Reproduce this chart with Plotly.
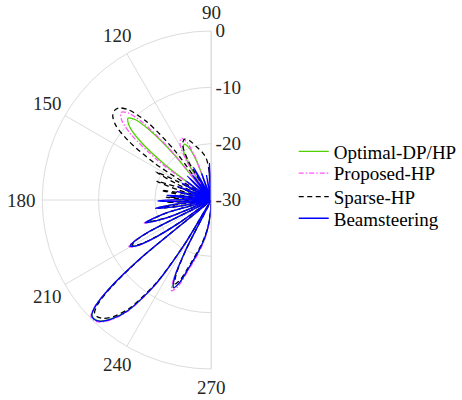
import math
import plotly.graph_objects as go

# Beam patterns (angle in degrees, gain in dB)
optimal_pts = [
    (90, -30), (92, -28), (94, -25), (96.5, -28), (99, -30),
    (102.5, -27), (106, -30),
    (110.5, -23), (113, -20), (116, -19), (119.5, -20), (122.5, -23), (127, -30),
    (129.2, -19.8), (131.5, -13.3), (133.5, -10.3), (135.5, -9.3), (137.8, -10.3), (140.2, -13.3), (142.7, -19.8), (145, -30),
    (147, -28.5), (149, -25), (151, -28.5), (153, -30),
    (155, -28.5), (157, -25), (159, -28.5), (161, -30),
    (163, -28), (165, -24), (167, -28), (169, -30),
    (171, -27.5), (173, -23.5), (175, -27.5), (177, -30),
    (179, -26), (181, -22), (182.8, -26), (184.5, -30),
    (186.5, -24), (188.5, -20), (190.8, -24), (193, -30),
    (196, -21.6), (199, -17.6), (202, -21.6), (205, -30),
    (207, -17.5), (208.3, -14.5), (209.5, -13.5), (211.5, -14.5), (213.5, -17.5), (215.5, -23), (218, -30),
    (219.5, -14), (221, -6), (222.5, -2.2), (224, -0.6), (225.5, -0.4), (227.5, -0.9), (230, -2.5), (233, -5.5), (236.5, -12), (239, -21), (241, -30),
    (243, -20), (244.8, -14.5), (246.7, -13), (249, -14.2), (252, -17.5), (256, -20.5), (260, -23), (264, -25.8), (268, -30),
]

proposed_pts = [
    (90, -30), (92, -27.5), (94, -24), (96.5, -27.5), (99, -30),
    (102.5, -26.5), (106, -30),
    (110.5, -22), (113, -18.8), (116, -17.8), (119.5, -18.8), (122.5, -22), (127, -30),
    (129.2, -18.2), (131.5, -11.7), (133.6, -8.7), (135.8, -7.7), (138.3, -8.7), (140.8, -11.7), (143.5, -18.2), (146, -30),
    (148, -28.5), (150, -24.5), (152, -28.5), (154, -30),
    (156, -28), (158, -24), (160, -28), (162, -30),
    (164, -27.5), (166, -23.5), (168, -27.5), (170, -30),
    (172, -27), (174, -23), (175.8, -27), (177.5, -30),
    (179.2, -25.5), (181, -21.5), (182.8, -25.5), (184.5, -30),
    (186.5, -24), (188.5, -20), (190.8, -24), (193, -30),
    (196, -21.4), (199, -17.4), (202, -21.4), (205, -30),
    (207, -17.2), (208.3, -14.2), (209.5, -13.2), (211.5, -14.2), (213.5, -17.2), (215.5, -22.8), (218, -30),
    (219.5, -13.8), (221, -5.8), (222.5, -1.9), (224, -0.3), (225.5, -0.1), (227.5, -0.6), (230, -2.2), (233, -5.2), (236.5, -11.7), (239, -20.8), (241, -30),
    (243, -19.5), (244.8, -13.9), (246.5, -12.4), (249, -13.6), (252, -16.9), (256, -20), (260, -22.6), (264, -25.5), (268, -30),
]

sparse_pts = [
    (90, -30), (94, -25), (97, -22.5), (101, -21.3), (105.5, -20.2), (110, -18.8), (114, -18.2), (117.5, -19), (120.5, -22), (124, -30),
    (126.5, -19), (129.5, -12), (132.5, -8.3), (135, -6.9), (137, -6.6), (139.5, -7), (142, -8.5), (144.5, -12), (147, -18), (149.5, -30),
    (151.3, -23), (153, -19), (155, -23), (157, -30),
    (159, -23.8), (161, -19.8), (163, -23.8), (165, -30),
    (167, -25), (169, -21), (171, -25), (173, -30),
    (174.8, -26), (176.5, -22), (178.2, -26), (180, -30),
    (181.5, -26), (183, -22), (184.3, -26), (185.5, -30),
    (187.2, -24.5), (189, -20.5), (191, -24.5), (193, -30),
    (196, -22), (199, -18), (202, -22), (205, -30),
    (207, -17.8), (208.3, -14.8), (209.5, -13.8), (211.5, -14.8), (213.5, -17.8), (215.5, -23.2), (218, -30),
    (219.5, -14.5), (221, -6.6), (222.5, -2.8), (224, -1.2), (225.5, -1), (227.5, -1.5), (230, -3), (233, -6), (236.5, -12.5), (239, -21.3), (241, -30),
    (243, -20.5), (244.8, -15.3), (246.7, -13.8), (249, -15), (252, -18.2), (256, -21), (260, -23.4), (264, -26), (268, -30),
]

beamsteering_pts = [
    (90, -30), (91.5, -27.5), (93, -23.5), (94.8, -27.5), (96.5, -30),
    (98.8, -29.5), (101, -25.5), (103.3, -29.5), (105.5, -30),
    (107.7, -29), (110, -25), (112, -29), (114, -30),
    (116.3, -27.4), (118.5, -23.4), (120.8, -27.4), (123, -30),
    (125, -28.5), (127, -24.5), (129, -28.5), (131, -30),
    (133, -28), (135, -24), (137, -28), (139, -30),
    (141, -28.5), (143, -24.5), (144.8, -28.5), (146.5, -30),
    (148.2, -28), (150, -24), (152, -28), (154, -30),
    (156, -27.5), (158, -23.5), (160, -27.5), (162, -30),
    (164, -27.7), (166, -23.7), (168, -27.7), (170, -30),
    (172, -26), (174, -22), (175.8, -26), (177.5, -30),
    (179.2, -24.5), (181, -20.5), (182.8, -24.5), (184.5, -30),
    (186.5, -24), (188.5, -20), (190.8, -24), (193, -30),
    (196, -21.6), (199, -17.6), (202, -21.6), (205, -30),
    (207, -17.4), (208.3, -14.4), (209.5, -13.4), (211.5, -14.4), (213.5, -17.4), (215.5, -23), (218, -30),
    (219.5, -14), (221, -6), (222.5, -2.1), (224, -0.5), (225.5, -0.3), (227.5, -0.8), (230, -2.4), (233, -5.4), (236.5, -12), (239, -21), (241, -30),
    (243, -20), (244.8, -14.6), (246.7, -13.1), (249, -14.3), (252, -17.6), (256, -20.6), (260, -23), (264, -25.8), (268, -30),
]

series_names = ["Optimal-DP/HP", "Proposed-HP", "Sparse-HP", "Beamsteering"]
angle_ticks = [90, 120, 150, 180, 210, 240, 270]
radial_ticks = [-30, -20, -10, 0]
radial_tick_labels = ["-30", "-20", "-10", "0"]

styles = [
    dict(color="#4fd100", dash="solid"),
    dict(color="#ff55ff", dash="5px,2px,1.5px,2px"),
    dict(color="#000000", dash="5px,3.5px"),
    dict(color="#0000ff", dash="solid"),
]
legend_ids = ["legend", "legend2", "legend3", "legend4"]
legend_y = [0.621, 0.567, 0.508, 0.454]

W, H = 462, 400
CX, CY, R = 215, 200, 172  # polar centre and radius in pixels

fig = go.Figure()
for name, pts, st, lg in zip(series_names,
                             [optimal_pts, proposed_pts, sparse_pts, beamsteering_pts],
                             styles, legend_ids):
    th = [p[0] for p in pts]
    rr = [p[1] for p in pts]
    fig.add_trace(go.Scatterpolar(
        theta=th, r=rr, mode="lines", name=name, legend=lg,
        line=dict(color=st["color"], dash=st["dash"], width=1.3, shape="spline", smoothing=0.8),
    ))

grid = "#dcdcdc"
fig.update_layout(
    width=W, height=H,
    margin=dict(l=0, r=0, t=0, b=0),
    paper_bgcolor="white",
    font=dict(family="Liberation Serif", size=19, color="#262626"),
    polar=dict(
        domain=dict(x=[(CX - R) / W, CX / W], y=[(H - CY - R) / H, (H - CY + R) / H]),
        bgcolor="white",
        sector=[90, 270],
        radialaxis=dict(
            range=[-30, 0], tickvals=radial_ticks, ticktext=radial_tick_labels,
            angle=90, side="clockwise",
            showline=True, linecolor=grid, linewidth=1, gridcolor=grid,
            ticks="", tickangle=90, tickfont=dict(size=19, color="#262626"),
        ),
        angularaxis=dict(
            rotation=0, direction="counterclockwise", tickvals=angle_ticks,
            showline=True, linecolor=grid, linewidth=1, gridcolor=grid,
            ticks="", showticklabels=False,
        ),
    ),
    showlegend=True,
)

# angular tick labels, centred outside the outer ring
for a in angle_ticks:
    rad = math.radians(a)
    rl = R + 15 + 6 * abs(math.cos(rad))
    px = CX + rl * math.cos(rad)
    py = CY - rl * math.sin(rad)
    fig.add_annotation(x=px / W, y=1 - py / H, xref="paper", yref="paper",
                       text=str(a), showarrow=False, xanchor="center", yanchor="middle",
                       font=dict(family="Liberation Serif", size=19, color="#262626"))

for lg, y in zip(legend_ids, legend_y):
    fig.update_layout({lg: dict(x=0.647, xanchor="left", y=y, yanchor="middle",
                                bgcolor="rgba(0,0,0,0)", borderwidth=0,
                                font=dict(family="Liberation Serif", size=19, color="#000000"))})

fig.write_html("out.html")
